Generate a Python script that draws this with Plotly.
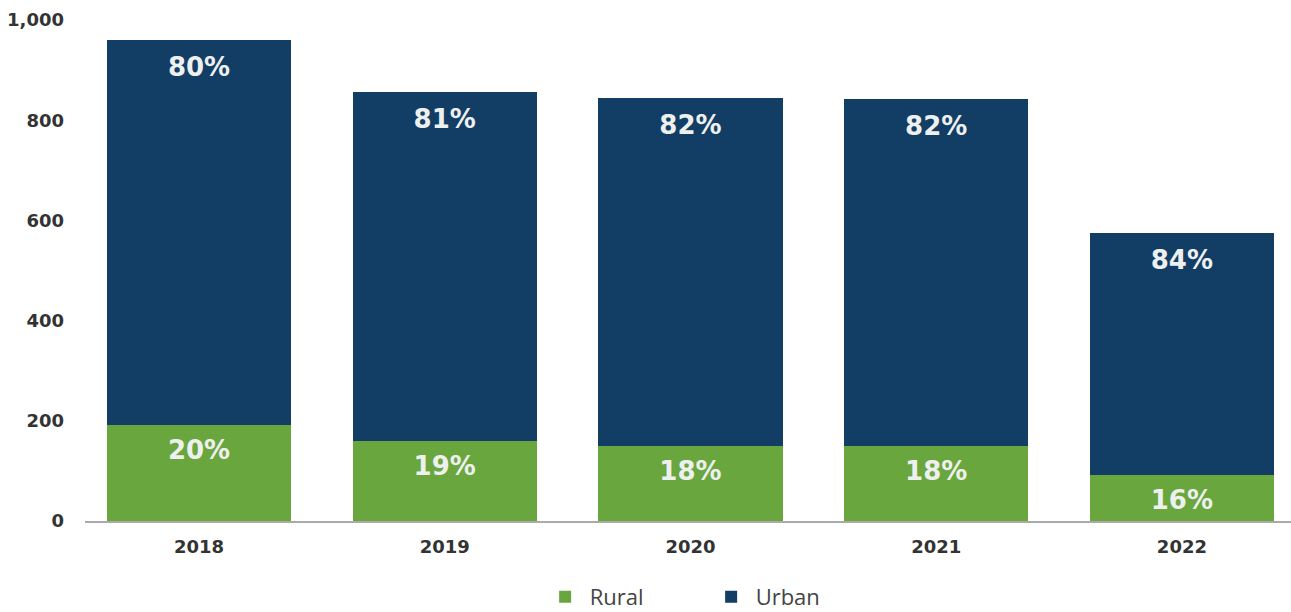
import plotly.graph_objects as go

years = ["2018", "2019", "2020", "2021", "2022"]
rural = [192, 160, 150, 150, 92]
urban = [768, 697, 694, 692, 483]
rural_pct = ["20%", "19%", "18%", "18%", "16%"]
urban_pct = ["80%", "81%", "82%", "82%", "84%"]
y_ticks = [0, 200, 400, 600, 800, 1000]
y_tick_text = ["0", "200", "400", "600", "800", "1,000"]

RURAL_COLOR = "#6aa63e"
URBAN_COLOR = "#123d64"
BOLD_FONT = "DejaVu Sans, Liberation Sans, sans-serif"
RURAL_DROP = 55   # label offset below segment top, in data units (2 units per px)
URBAN_DROP = 59

totals = [r + u for r, u in zip(rural, urban)]

fig = go.Figure()
fig.add_trace(go.Bar(x=years, y=rural, name="Rural", marker=dict(color=RURAL_COLOR, line=dict(width=0)),
                     hoverinfo="skip"))
fig.add_trace(go.Bar(x=years, y=urban, name="Urban", marker=dict(color=URBAN_COLOR, line=dict(width=0)),
                     hoverinfo="skip"))
fig.add_trace(go.Scatter(x=years, y=[r - RURAL_DROP for r in rural], mode="text",
                         text=["<b>" + t + "</b>" for t in rural_pct], textposition="middle center",
                         textfont=dict(family=BOLD_FONT, size=26, color="#eef0f0"),
                         showlegend=False, hoverinfo="skip"))
fig.add_trace(go.Scatter(x=years, y=[t - URBAN_DROP for t in totals], mode="text",
                         text=["<b>" + t + "</b>" for t in urban_pct], textposition="middle center",
                         textfont=dict(family=BOLD_FONT, size=26, color="#eef0f0"),
                         showlegend=False, hoverinfo="skip"))

fig.update_layout(
    barmode="stack",
    bargap=0.25,
    width=1291,
    height=618,
    margin=dict(l=85, r=0, t=20, b=97),
    plot_bgcolor="white",
    paper_bgcolor="white",
    font=dict(family=BOLD_FONT, color="#333333"),
    legend=dict(orientation="h", x=0.3778, xanchor="left", y=-97 / 501, yanchor="bottom",
                font=dict(family="Open Sans, sans-serif", size=22, color="#444444"),
                itemwidth=39, entrywidth=112, entrywidthmode="pixels", traceorder="normal"),
    xaxis=dict(type="category", range=[-0.464, 4.444], showgrid=False, showline=True,
               linecolor="#aaaaaa", linewidth=2, ticks="",
               tickfont=dict(size=18, color="#333333", family=BOLD_FONT),
               tickprefix="<b>", ticksuffix="</b>", ticklabelstandoff=8),
    yaxis=dict(range=[0, 1000], showgrid=False, zeroline=False, showline=False,
               tickvals=y_ticks, ticktext=["<b>" + t + "</b>" for t in y_tick_text],
               tickfont=dict(size=18, color="#333333", family=BOLD_FONT),
               ticklabelstandoff=20),
)

fig.write_html("out.html", config={"displayModeBar": False},
               post_script="document.body.style.margin='0';document.body.style.overflow='hidden';")
